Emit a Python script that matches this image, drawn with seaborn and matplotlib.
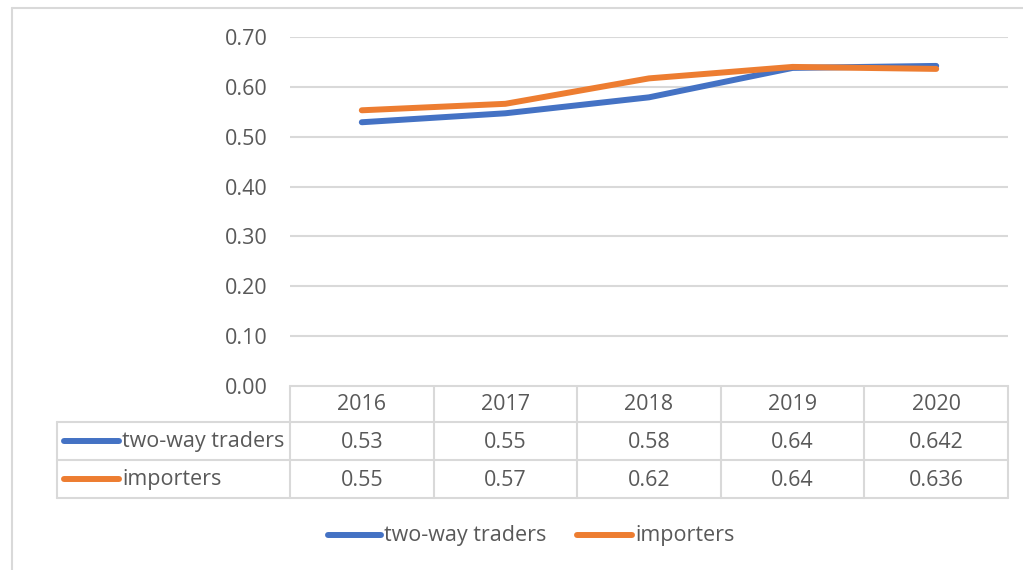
import matplotlib
matplotlib.use("Agg")
import matplotlib.pyplot as plt
import pandas as pd
import seaborn as sns

years = ["2016", "2017", "2018", "2019", "2020"]
two_way = [0.529, 0.547, 0.579, 0.638, 0.642]
importers = [0.553, 0.566, 0.617, 0.640, 0.636]
table_two_way = ["0.53", "0.55", "0.58", "0.64", "0.642"]
table_importers = ["0.55", "0.57", "0.62", "0.64", "0.636"]
series = ["two-way traders", "importers"]
colors = ["#4472C4", "#ED7D31"]

sns.set_style("white")
plt.rcParams['font.family'] = ['Open Sans', 'DejaVu Sans']
text_col = "#595959"
grid_col = "#d9d9d9"
fs = 15.5

df = pd.DataFrame({
    "Year": years * 2,
    "Value": two_way + importers,
    "Series": [series[0]] * 5 + [series[1]] * 5,
})
df["x"] = list(range(5)) * 2

W, H = 1023, 570
fig = plt.figure(figsize=(W / 100, H / 100), dpi=100)

# main plot area, positioned in pixels
left, right, top, bottom = 290, 1008, 37, 386
ax = fig.add_axes([left / W, 1 - bottom / H, (right - left) / W, (bottom - top) / H])
sns.lineplot(data=df, x="x", y="Value", hue="Series", palette=colors, linewidth=4.3,
             ax=ax, legend=False, solid_capstyle="round")
ax.set_xlim(-0.5, 4.5)
ax.set_ylim(0, 0.7)
ax.set_yticks([i / 10 for i in range(8)])
ax.set_yticklabels([f"{i / 10:.2f}" for i in range(8)], fontsize=fs, color=text_col)
ax.set_xticks([])
ax.tick_params(axis="y", length=0, pad=16)
ax.grid(axis="y", color=grid_col, linewidth=1.5)
ax.set_axisbelow(True)
for s in ax.spines.values():
    s.set_visible(False)
ax.set_xlabel("")
ax.set_ylabel("")

# overlay in pixel coordinates for border, data table and legend
ov = fig.add_axes([0, 0, 1, 1], zorder=-1)
ov.set_xlim(0, W)
ov.set_ylim(H, 0)
ov.axis("off")
ov.patch.set_alpha(0)

ov.plot([12, 12], [H, 8], color=grid_col, lw=1.5)
ov.plot([12, W], [8, 8], color=grid_col, lw=1.5)

col_x = [left + i * (right - left) / 5 for i in range(6)]
row_y = [386, 422, 460, 498]
tl = 57
ov.plot([left, right], [row_y[0], row_y[0]], color=grid_col, lw=1.5)
for y in row_y[1:]:
    ov.plot([tl, right], [y, y], color=grid_col, lw=1.5)
for x in col_x:
    ov.plot([x, x], [row_y[0], row_y[3]], color=grid_col, lw=1.5)
ov.plot([tl, tl], [row_y[1], row_y[3]], color=grid_col, lw=1.5)

for i, yr in enumerate(years):
    cx = (col_x[i] + col_x[i + 1]) / 2
    ov.text(cx, (row_y[0] + row_y[1]) / 2 + 1, yr, ha="center", va="center", fontsize=fs, color=text_col)
    ov.text(cx, (row_y[1] + row_y[2]) / 2 + 1, table_two_way[i], ha="center", va="center", fontsize=fs, color=text_col)
    ov.text(cx, (row_y[2] + row_y[3]) / 2 + 1, table_importers[i], ha="center", va="center", fontsize=fs, color=text_col)

for k, name in enumerate(series):
    cy = (row_y[k + 1] + row_y[k + 2]) / 2
    ov.plot([64, 119], [cy, cy], color=colors[k], lw=4.3, solid_capstyle="round")
    ov.text(122, cy + 1, name, ha="left", va="center", fontsize=fs, color=text_col)

# bottom legend
leg_y = 535
for (x0, x1), name, c in zip([(328, 381), (577, 632)], series, colors):
    ov.plot([x0, x1], [leg_y, leg_y], color=c, lw=4.3, solid_capstyle="round")
    ov.text(x1 + 3, leg_y + 1, name, ha="left", va="center", fontsize=fs, color=text_col)

fig.savefig("out.png", dpi=100)
